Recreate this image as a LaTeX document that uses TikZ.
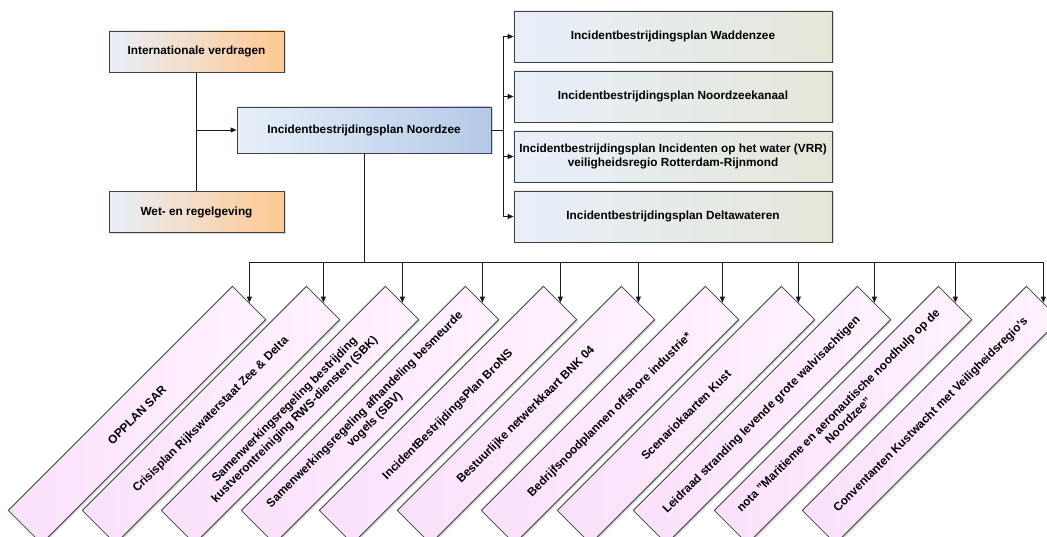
\documentclass[tikz,border=0pt]{standalone}
\usepackage{fontspec}
\setmainfont{Liberation Sans}
\usetikzlibrary{arrows.meta,shadows}
\definecolor{lichtblauw}{RGB}{232,239,250}
\definecolor{oranje}{RGB}{255,200,145}
\definecolor{blauw}{RGB}{180,202,230}
\definecolor{olijf}{RGB}{228,231,216}
\definecolor{rozedonker}{RGB}{251,224,251}
\definecolor{rozelicht}{RGB}{255,243,255}
\begin{document}
\begin{tikzpicture}[x=1pt,y=-1pt,
  blok/.style={draw=black!75,line width=0.8pt,font=\bfseries\fontsize{11.8}{14}\selectfont,align=center,inner sep=2pt,drop shadow={shadow xshift=1.5pt,shadow yshift=-1.5pt,opacity=0.3}},
  bron/.style={blok,minimum width=175pt,minimum height=41pt,left color=lichtblauw,right color=oranje},
  hoofd/.style={blok,minimum width=254pt,minimum height=46pt,left color=lichtblauw,right color=blauw},
  regio/.style={blok,minimum width=318pt,minimum height=51pt,left color=lichtblauw,right color=olijf},
  plan/.style={blok,rotate=45,minimum width=317pt,minimum height=47pt,left color=rozedonker,right color=rozelicht},
  lijn/.style={black!90,line width=0.8pt},
  pijl/.style={lijn,-{Triangle[length=6pt,width=5pt]}}]
\useasboundingbox (0,0) rectangle (1047,537);
\clip (0,0) rectangle (1047,537);
\fill[white] (0,0) rectangle (1047,537);
\node[bron] (int) at (196.5,51.5) {Internationale verdragen};
\node[bron] (wet) at (196.5,212) {Wet- en regelgeving};
\node[hoofd] (ibp) at (364,130) {Incidentbestrijdingsplan Noordzee};
\node[regio] (wad) at (673,36.5) {Incidentbestrijdingsplan Waddenzee};
\node[regio] (nzk) at (673,96.5) {Incidentbestrijdingsplan Noordzeekanaal};
\node[regio] (vrr) at (673,156.5) {Incidentbestrijdingsplan Incidenten op het water (VRR)\\veiligheidsregio Rotterdam-Rijnmond};
\node[regio] (dw) at (673,216.5) {Incidentbestrijdingsplan Deltawateren};
\node[plan] (sar) at (137,415) {OPPLAN SAR};
\node[plan] (crisis) at (211,415) {Crisisplan Rijkswaterstaat Zee \& Delta};
\node[plan] (sbk) at (290,415) {Samenwerkingsregeling bestrijding\\kustverontreiniging RWS-diensten (SBK)};
\node[plan] (sbv) at (370,415) {Samenwerkingsregeling afhandeling besmeurde\\vogels (SBV)};
\node[plan] (brons) at (448,415) {IncidentBestrijdingsPlan BroNS};
\node[plan] (bnk) at (526,415) {Bestuurlijke netwerkkaart BNK 04};
\node[plan] (offshore) at (610,415) {Bedrijfsnoodplannen offshore industrie*};
\node[plan] (kust) at (686,415) {Scenariokaarten Kust};
\node[plan] (walvis) at (762,415) {Leidraad stranding levende grote walvisachtigen};
\node[plan] (nota) at (843,415) {nota "Maritieme en aeronautische noodhulp op de\\Noordzee"};
\node[plan] (kw) at (931,415) {Conventanten Kustwacht met Veiligheidsregio's};
\draw[lijn] (int) -- (wet);
\draw[pijl] (int.south |- ibp.west) -- (ibp.west);
\draw[lijn] (ibp.east) -- ++(12,0) coordinate (rechts);
\draw[lijn] (rechts |- wad.west) -- (rechts |- dw.west);
\draw[pijl] (rechts |- wad.west) -- (wad.west);
\draw[pijl] (rechts |- nzk.west) -- (nzk.west);
\draw[pijl] (rechts |- vrr.west) -- (vrr.west);
\draw[pijl] (rechts |- dw.west) -- (dw.west);
\draw[lijn] (ibp.south) -- (364,262) coordinate (onder);
\draw[lijn] (onder -| sar.east) -- (onder -| kw.east);
\draw[pijl] (onder -| sar.east) -- (sar.east);
\draw[pijl] (onder -| crisis.east) -- (crisis.east);
\draw[pijl] (onder -| sbk.east) -- (sbk.east);
\draw[pijl] (onder -| sbv.east) -- (sbv.east);
\draw[pijl] (onder -| brons.east) -- (brons.east);
\draw[pijl] (onder -| bnk.east) -- (bnk.east);
\draw[pijl] (onder -| offshore.east) -- (offshore.east);
\draw[pijl] (onder -| kust.east) -- (kust.east);
\draw[pijl] (onder -| walvis.east) -- (walvis.east);
\draw[pijl] (onder -| nota.east) -- (nota.east);
\draw[pijl] (onder -| kw.east) -- (kw.east);
\end{tikzpicture}
\end{document}
